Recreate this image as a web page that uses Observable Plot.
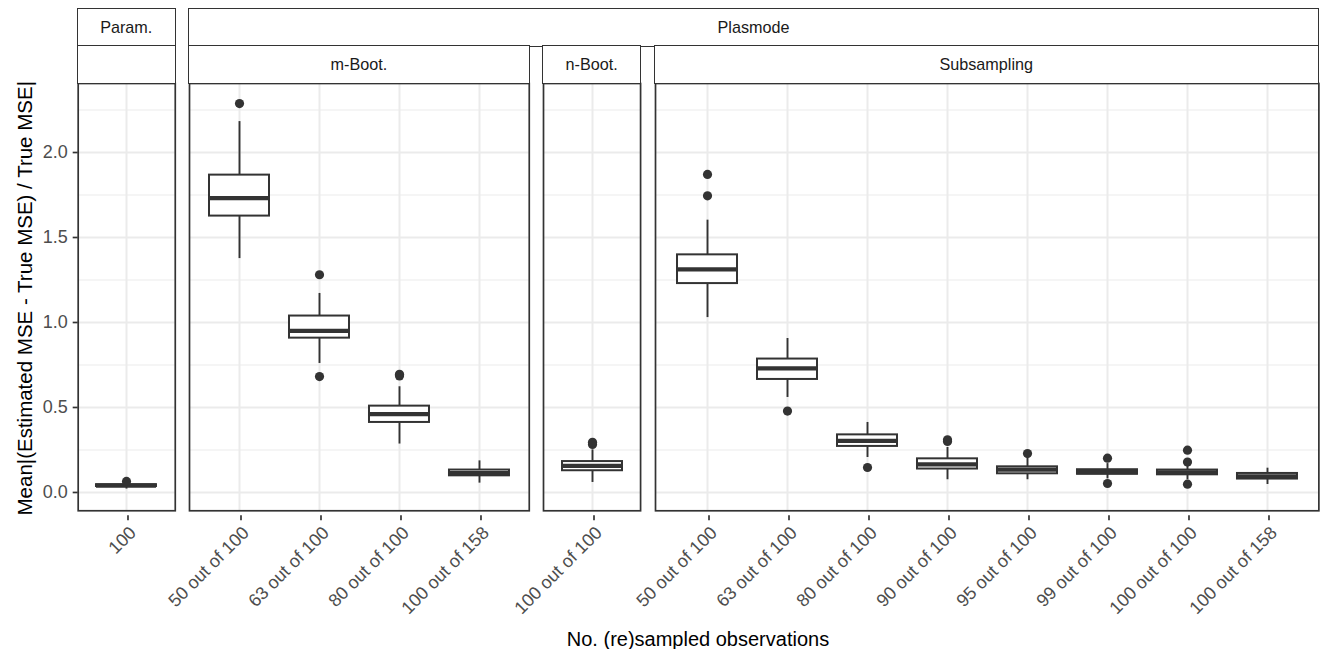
<!DOCTYPE html>
<html>
<head>
<meta charset="utf-8">
<script src="https://cdn.jsdelivr.net/npm/d3@7"></script>
<script src="https://cdn.jsdelivr.net/npm/@observablehq/plot@0.6"></script>
<style>
  html, body { margin: 0; padding: 0; background: #fff; }
  #chart { position: relative; width: 1324px; height: 649px; overflow: hidden;
    font-family: "Liberation Sans", Arial, Helvetica, sans-serif; }
  .strip { position: absolute; box-sizing: border-box; border: 1.7px solid #333; background: #fff;
    color: #1a1a1a; font-size: 16.2px; display: flex; align-items: center; justify-content: center; }
  .panel { position: absolute; }
  .panel svg { overflow: visible; background: transparent !important; }
  .panel svg [aria-label$="axis tick"] { stroke: #333; stroke-width: 1.7px; }
  .title { position: absolute; color: #000; white-space: nowrap; }
</style>
</head>
<body>
<div id="chart"></div>
<script>
// ---- data ----
const panelTop = ["Param.", "Plasmode", "Plasmode", "Plasmode"];
const panelSub = ["", "m-Boot.", "n-Boot.", "Subsampling"];

const boxPanel = [0, 1, 1, 1, 1, 2, 3, 3, 3, 3, 3, 3, 3, 3];
const boxLabel = ["100",
  "50 out of 100", "63 out of 100", "80 out of 100", "100 out of 158",
  "100 out of 100",
  "50 out of 100", "63 out of 100", "80 out of 100", "90 out of 100",
  "95 out of 100", "99 out of 100", "100 out of 100", "100 out of 158"];
const whiskerLow  = [0.020, 1.376, 0.759, 0.285, 0.055, 0.059, 1.029, 0.559, 0.206, 0.075, 0.075, 0.080, 0.075, 0.047];
const q1          = [0.035, 1.626, 0.908, 0.412, 0.098, 0.128, 1.229, 0.665, 0.271, 0.138, 0.110, 0.107, 0.104, 0.079];
const median      = [0.040, 1.732, 0.951, 0.461, 0.114, 0.157, 1.312, 0.730, 0.304, 0.165, 0.135, 0.120, 0.118, 0.095];
const q3          = [0.046, 1.867, 1.038, 0.508, 0.132, 0.182, 1.398, 0.785, 0.339, 0.198, 0.151, 0.134, 0.132, 0.112];
const whiskerHigh = [0.055, 2.182, 1.171, 0.622, 0.186, 0.251, 1.602, 0.906, 0.412, 0.265, 0.200, 0.170, 0.160, 0.143];
const outliers = [[0.065], [2.288], [1.281, 0.682], [0.686, 0.695], [], [0.283, 0.295],
  [1.871, 1.745], [0.479], [0.147], [0.300, 0.310], [0.229], [0.202, 0.053], [0.249, 0.179, 0.049], []];

const yTicks = [0, 0.5, 1, 1.5, 2];
const yMinor = [0.25, 0.75, 1.25, 1.75, 2.25];
const yDomain = [-0.1076, 2.406];
const xTitle = "No. (re)sampled observations";
const yTitle = "Mean|(Estimated MSE - True MSE) / True MSE|";

// ---- layout ----
const step = 80.9, gap = 14.3, left0 = 77.7, stripTop = 9.3, stripH = 36.7, panelTopY = 82.7, panelH = 427.3, mb = 130;
const tickFont = "18px";
const chart = document.getElementById("chart");
const hasAxisMarks = typeof Plot.axisX === "function";

const rows = boxLabel.map((label, j) => ({
  panel: boxPanel[j], label, lo: whiskerLow[j], q1: q1[j], med: median[j], q3: q3[j], hi: whiskerHigh[j]
}));
const outs = outliers.flatMap((vs, j) => vs.map(v => ({panel: boxPanel[j], label: boxLabel[j], v})));

function addStrip(text, x, y, w, h) {
  const d = document.createElement("div");
  d.className = "strip";
  d.style.left = (x - 0.85) + "px"; d.style.top = (y - 0.85) + "px";
  d.style.width = (w + 1.7) + "px"; d.style.height = (h + 1.7) + "px";
  d.textContent = text;
  chart.appendChild(d);
}

let px = left0;
const panelPos = [];
for (let i = 0; i < panelSub.length; i++) {
  const pr = rows.filter(d => d.panel === i);
  const po = outs.filter(d => d.panel === i);
  const w = (pr.length + 0.2) * step;
  panelPos.push([px, w]);
  const ml = i === 0 ? left0 : 0;
  const axes = hasAxisMarks ? [
    Plot.axisX({tickRotate: -45, tickSize: 5, tickPadding: 4, textAnchor: "end", lineAnchor: "top",
      dx: 1.5, dy: 5, fontSize: tickFont, fill: "#4d4d4d", stroke: "#333", label: null}),
    ...(i === 0 ? [Plot.axisY({ticks: yTicks, tickFormat: d3.format(".1f"), tickSize: 5, tickPadding: 5.5,
      fontSize: tickFont, fill: "#4d4d4d", stroke: "#333", label: null})] : [])
  ] : [];
  const plot = Plot.plot({
    width: w + ml, height: panelH + mb,
    marginLeft: ml, marginRight: 0, marginTop: 0, marginBottom: mb,
    style: {fontFamily: '"Liberation Sans", Arial, Helvetica, sans-serif', fontSize: tickFont, color: "#4d4d4d", background: "transparent", overflow: "visible"},
    x: {type: "band", domain: pr.map(d => d.label), paddingInner: 0.25, paddingOuter: 0.225, align: 0.5,
        tickRotate: -45, tickSize: 5, tickPadding: 4, label: null, axis: hasAxisMarks ? null : "bottom"},
    y: {domain: yDomain, ticks: yTicks, tickFormat: d3.format(".1f"), tickSize: 5, tickPadding: 5.5, label: null,
        axis: (i === 0 && !hasAxisMarks) ? "left" : null},
    marks: [
      Plot.ruleY(yMinor, {stroke: "#ebebeb", strokeWidth: 1}),
      Plot.ruleY(yTicks, {stroke: "#ebebeb", strokeWidth: 2}),
      Plot.ruleX(pr, {x: "label", stroke: "#ebebeb", strokeWidth: 2}),
      Plot.ruleX(pr, {x: "label", y1: "lo", y2: "q1", stroke: "#333", strokeWidth: 1.9}),
      Plot.ruleX(pr, {x: "label", y1: "q3", y2: "hi", stroke: "#333", strokeWidth: 1.9}),
      Plot.barY(pr, {x: "label", y1: "q1", y2: "q3", fill: "white", stroke: "#333", strokeWidth: 2}),
      Plot.tickY(pr, {x: "label", y: "med", stroke: "#333", strokeWidth: 4.3}),
      Plot.dot(po, {x: "label", y: "v", r: 4.6, fill: "#333", stroke: "none"}),
      Plot.frame({stroke: "#333", strokeWidth: 1.7}),
      ...axes
    ]
  });
  const holder = document.createElement("div");
  holder.className = "panel";
  holder.style.left = (px - ml) + "px";
  holder.style.top = panelTopY + "px";
  holder.style.width = (w + ml) + "px";
  holder.appendChild(plot);
  chart.appendChild(holder);
  px += w + gap;
}

// strips
addStrip(panelTop[0], panelPos[0][0], stripTop, panelPos[0][1], stripH);
addStrip(panelSub[0], panelPos[0][0], stripTop + stripH, panelPos[0][1], stripH);
const pLeft = panelPos[1][0], pRight = panelPos[3][0] + panelPos[3][1];
addStrip(panelTop[1], pLeft, stripTop, pRight - pLeft, stripH);
for (let i = 1; i < 4; i++) addStrip(panelSub[i], panelPos[i][0], stripTop + stripH, panelPos[i][1], stripH);

// axis titles
const xt = document.createElement("div");
xt.className = "title"; xt.textContent = xTitle;
xt.style.fontSize = "20px"; xt.style.lineHeight = "20px";
chart.appendChild(xt);
const cx = (panelPos[0][0] + pRight) / 2;
xt.style.left = (cx - xt.offsetWidth / 2) + "px";
xt.style.top = "629px";

const yt = document.createElement("div");
yt.className = "title"; yt.textContent = yTitle;
yt.style.fontSize = "20.5px"; yt.style.lineHeight = "20.5px";
chart.appendChild(yt);
const cy = panelTopY + panelH / 2 + 2;
yt.style.left = (24.8 - yt.offsetWidth / 2) + "px";
yt.style.top = (cy - 20.5 / 2) + "px";
yt.style.transform = "rotate(-90deg)";
</script>
</body>
</html>
